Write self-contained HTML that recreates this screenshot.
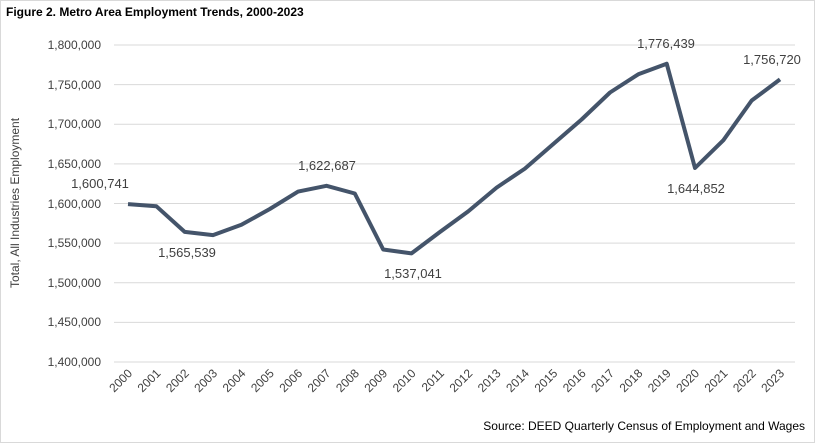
<!DOCTYPE html>
<html><head><meta charset="utf-8"><style>
body{margin:0;background:#fff;}
svg{display:block;font-family:"Liberation Sans",sans-serif;}
</style></head><body>
<svg width="815" height="443" viewBox="0 0 815 443">
<rect x="0.5" y="0.5" width="814" height="442" fill="#fff" stroke="#d9d9d9"/>
<text x="6" y="16" font-size="12" font-weight="bold" fill="#000">Figure 2. Metro Area Employment Trends, 2000-2023</text>
<g stroke="#d9d9d9" stroke-width="1">
<line x1="114" x2="795" y1="45" y2="45"/><line x1="114" x2="795" y1="84.6" y2="84.6"/>
<line x1="114" x2="795" y1="124.3" y2="124.3"/><line x1="114" x2="795" y1="163.9" y2="163.9"/>
<line x1="114" x2="795" y1="203.5" y2="203.5"/><line x1="114" x2="795" y1="243.1" y2="243.1"/>
<line x1="114" x2="795" y1="282.8" y2="282.8"/><line x1="114" x2="795" y1="322.4" y2="322.4"/>
<line x1="114" x2="795" y1="362" y2="362"/>
</g>
<g font-size="12" fill="#404040" text-anchor="end">
<text x="101" y="49">1,800,000</text><text x="101" y="89">1,750,000</text>
<text x="101" y="128">1,700,000</text><text x="101" y="168">1,650,000</text>
<text x="101" y="208">1,600,000</text><text x="101" y="247">1,550,000</text>
<text x="101" y="287">1,500,000</text><text x="101" y="326">1,450,000</text>
<text x="101" y="366">1,400,000</text>
</g>
<text transform="translate(19,203) rotate(-90)" font-size="12" fill="#404040" text-anchor="middle">Total, All Industries Employment</text>
<g font-size="12" fill="#404040" text-anchor="end">
<text transform="translate(133,374) rotate(-45)">2000</text>
<text transform="translate(161.3,374) rotate(-45)">2001</text>
<text transform="translate(189.7,374) rotate(-45)">2002</text>
<text transform="translate(218,374) rotate(-45)">2003</text>
<text transform="translate(246.4,374) rotate(-45)">2004</text>
<text transform="translate(274.7,374) rotate(-45)">2005</text>
<text transform="translate(303.1,374) rotate(-45)">2006</text>
<text transform="translate(331.4,374) rotate(-45)">2007</text>
<text transform="translate(359.8,374) rotate(-45)">2008</text>
<text transform="translate(388.1,374) rotate(-45)">2009</text>
<text transform="translate(416.5,374) rotate(-45)">2010</text>
<text transform="translate(444.8,374) rotate(-45)">2011</text>
<text transform="translate(473.2,374) rotate(-45)">2012</text>
<text transform="translate(501.5,374) rotate(-45)">2013</text>
<text transform="translate(529.9,374) rotate(-45)">2014</text>
<text transform="translate(558.2,374) rotate(-45)">2015</text>
<text transform="translate(586.6,374) rotate(-45)">2016</text>
<text transform="translate(614.9,374) rotate(-45)">2017</text>
<text transform="translate(643.3,374) rotate(-45)">2018</text>
<text transform="translate(671.6,374) rotate(-45)">2019</text>
<text transform="translate(700,374) rotate(-45)">2020</text>
<text transform="translate(728.3,374) rotate(-45)">2021</text>
<text transform="translate(756.7,374) rotate(-45)">2022</text>
<text transform="translate(785,374) rotate(-45)">2023</text>
</g>
<polyline fill="none" stroke="#44546a" stroke-width="4" stroke-linejoin="round" points="
128,204.1 156.3,206.2 184.7,231.9 213,235.1 241.4,224.8 269.8,209 298.1,191.6 326.5,185.8 354.8,193.5 383.2,249.5 411.5,253.4 439.9,232 468.2,211.4 496.6,187.6 524.9,168.6 553.3,144 581.6,119.5 610,92.5 638.3,74.3 666.7,63.7 695,168 723.4,140.2 751.7,100.5 780,79.4"/>
<g font-size="13" fill="#404040" text-anchor="middle">
<text x="100" y="188">1,600,741</text>
<text x="187" y="257">1,565,539</text>
<text x="327" y="170">1,622,687</text>
<text x="413" y="278">1,537,041</text>
<text x="666" y="48">1,776,439</text>
<text x="696" y="193">1,644,852</text>
<text x="772" y="64">1,756,720</text>
</g>
<text x="805" y="430" font-size="12" fill="#000" text-anchor="end">Source: DEED Quarterly Census of Employment and Wages</text>
</svg>
</body></html>
